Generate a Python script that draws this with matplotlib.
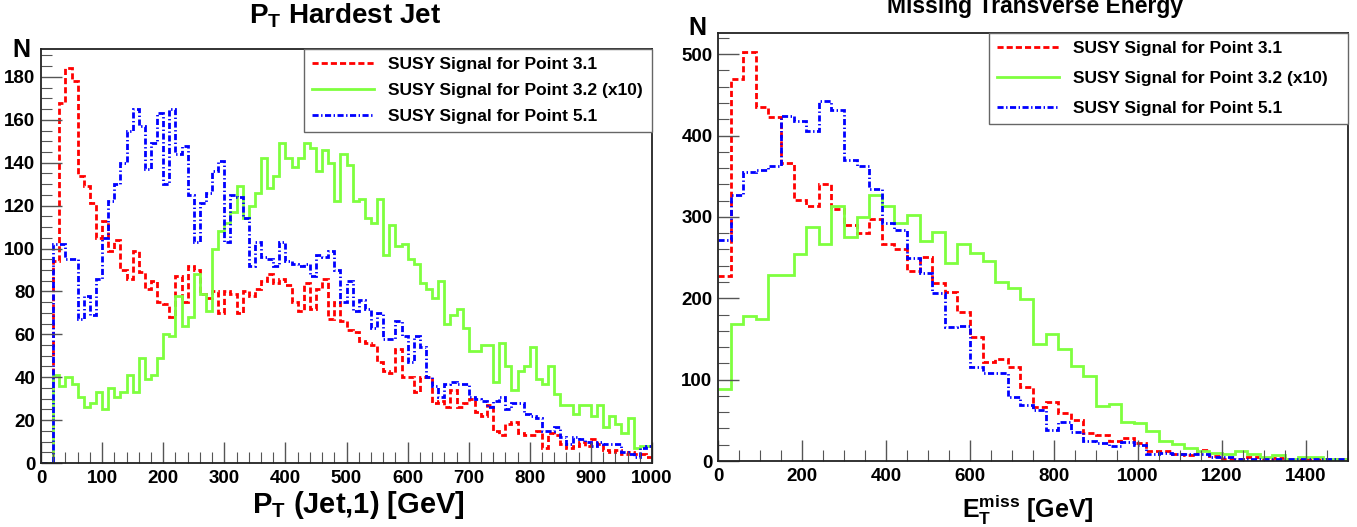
import numpy as np
import matplotlib
matplotlib.use('Agg')
import matplotlib.pyplot as plt
from matplotlib.ticker import MultipleLocator

plt.rcParams['font.family'] = ['Liberation Sans', 'DejaVu Sans']
plt.rcParams['font.weight'] = 'bold'
plt.rcParams['mathtext.fontset'] = 'custom'
plt.rcParams['mathtext.rm'] = 'Liberation Sans'
plt.rcParams['mathtext.bf'] = 'Liberation Sans:bold'
plt.rcParams['mathtext.it'] = 'Liberation Sans:italic'

# Hardest jet pT: 10 GeV bins from 0 to 1000
pt_edges = np.arange(0, 1001, 10)
pt_p31 = [0, 0, 94, 168, 184, 178, 134, 129, 121, 105,
          113, 99, 104, 90, 86, 99, 89, 81, 85, 75,
          74, 68, 87, 75, 92, 90, 79, 77, 80, 70,
          80, 79, 70, 80, 78, 81, 85, 88, 84, 86,
          83, 75, 71, 84, 72, 81, 86, 67, 75, 66,
          62, 61, 57, 56, 55, 47, 43, 42, 53, 40,
          40, 33, 40, 40, 28, 29, 26, 34, 26, 28,
          30, 24, 22, 27, 15, 13, 18, 19, 14, 13,
          13, 15, 7, 14, 13, 9, 7, 8, 10, 8,
          11, 9, 6, 5, 6, 4, 5, 4, 4, 3]
pt_p32 = [0, 0, 41, 36, 40, 37, 31, 26, 28, 33,
          25, 35, 31, 33, 41, 33, 49, 39, 41, 49,
          60, 59, 78, 64, 68, 88, 79, 71, 100, 108,
          112, 117, 129, 114, 120, 126, 142, 128, 134, 149,
          142, 138, 142, 149, 147, 136, 146, 140, 122, 144,
          139, 122, 123, 114, 112, 123, 97, 111, 101, 102,
          95, 93, 84, 81, 77, 85, 65, 69, 72, 63,
          52, 52, 55, 55, 38, 56, 45, 34, 43, 45,
          54, 39, 37, 45, 32, 27, 27, 23, 27, 27,
          22, 27, 17, 22, 18, 14, 21, 7, 8, 8]
pt_p51 = [0, 0, 102, 102, 95, 95, 67, 78, 69, 86,
          105, 122, 130, 140, 155, 165, 157, 137, 149, 163,
          130, 165, 144, 148, 125, 103, 121, 126, 136, 141,
          103, 125, 124, 114, 92, 103, 96, 95, 92, 103,
          94, 93, 92, 93, 87, 97, 96, 99, 90, 75,
          85, 71, 76, 72, 63, 70, 58, 58, 66, 59,
          47, 59, 54, 40, 36, 31, 37, 38, 37, 37,
          31, 30, 29, 26, 29, 31, 25, 28, 28, 23,
          22, 21, 15, 15, 17, 12, 9, 12, 11, 10,
          8, 10, 9, 9, 9, 5, 4, 3, 7, 8]

# Missing transverse energy: 30 GeV bins from 0 to 1500
met_edges = np.arange(0, 1501, 30)
met_p31 = [228, 469, 503, 435, 423, 366, 321, 314, 340, 310,
           290, 280, 297, 267, 261, 234, 251, 219, 208, 183,
           153, 122, 126, 116, 91, 67, 73, 59, 50, 34,
           32, 24, 28, 22, 12, 12, 9, 7, 13, 6,
           3, 3, 5, 3, 4, 2, 2, 3, 2, 2]
met_p32 = [89, 168, 178, 175, 229, 229, 254, 288, 267, 313,
           275, 300, 327, 314, 293, 302, 270, 282, 243, 267,
           256, 246, 220, 213, 199, 144, 156, 138, 117, 104,
           68, 70, 48, 47, 37, 25, 21, 16, 12, 10,
           9, 12, 9, 5, 7, 3, 5, 5, 3, 3]
met_p51 = [272, 327, 355, 358, 362, 424, 418, 406, 443, 432,
           370, 362, 334, 293, 284, 250, 231, 206, 165, 166,
           116, 108, 108, 79, 69, 63, 38, 48, 36, 24,
           22, 18, 23, 20, 9, 10, 9, 9, 9, 5,
           5, 2, 3, 2, 2, 2, 2, 2, 2, 2]

labels = ['SUSY Signal for Point 3.1', 'SUSY Signal for Point 3.2 (x10)',
          'SUSY Signal for Point 5.1']
red = '#ff0000'
green = '#7fff3f'
blue = '#0000ff'
styles = [dict(color=red, lw=2.0, ls=(0, (2.2, 1.1))),
          dict(color=green, lw=2.0, ls='-'),
          dict(color=blue, lw=2.0, ls=(0, (2.2, 0.9, 0.5, 0.9)))]

fig = plt.figure(figsize=(13.57, 5.27), dpi=100)
ax1 = fig.add_axes([0.0302, 0.1214, 0.4503, 0.7856])
ax2 = fig.add_axes([0.5291, 0.1252, 0.4643, 0.8121])

for ax, edges, series in [(ax1, pt_edges, [pt_p31, pt_p32, pt_p51]),
                          (ax2, met_edges, [met_p31, met_p32, met_p51])]:
    for vals, st, lab in zip(series, styles, labels):
        ax.stairs(vals, edges, baseline=None, label=lab, **st)
    ax.tick_params(which='both', direction='in', color='#555555', labelsize=13.5,
                   top=False, right=False)
    ax.tick_params(which='major', length=15, width=1.0)
    ax.tick_params(which='minor', length=8, width=0.8)
    ax.tick_params(axis='y', pad=4)
    ax.tick_params(axis='x', pad=5)
    for sp in ax.spines.values():
        sp.set_linewidth(1.3)
        sp.set_color('#222222')

ax1.set_xlim(0, 1000)
ax1.set_ylim(0, 193)
ax1.xaxis.set_major_locator(MultipleLocator(100))
ax1.xaxis.set_minor_locator(MultipleLocator(20))
ax1.yaxis.set_major_locator(MultipleLocator(20))
ax1.yaxis.set_minor_locator(MultipleLocator(5))

ax2.set_xlim(0, 1500)
ax2.set_ylim(0, 526)
ax2.xaxis.set_major_locator(MultipleLocator(200))
ax2.xaxis.set_minor_locator(MultipleLocator(50))
ax2.yaxis.set_major_locator(MultipleLocator(100))
ax2.yaxis.set_minor_locator(MultipleLocator(20))

for ax in (ax1, ax2):
    for lab in ax.get_xticklabels() + ax.get_yticklabels():
        lab.set_fontweight('bold')

for ax, x0, y0, sp in [(ax1, 0.43, 0.797, 0.62), (ax2, 0.43, 0.778, 0.85)]:
    leg = ax.legend(loc='upper left', bbox_to_anchor=(x0, y0, 1 - x0, 1 - y0),
                    mode='expand', borderaxespad=0, fancybox=False,
                    edgecolor='#666666', framealpha=1, fontsize=12.5,
                    handlelength=3.6, handletextpad=0.8, labelspacing=sp,
                    borderpad=0.45)
    leg.get_frame().set_linewidth(1.0)
    for t in leg.get_texts():
        t.set_fontweight('bold')

fig.text(345 / 1357, 1 - 23 / 527, r'$\mathbf{P}_{\mathbf{T}}$ Hardest Jet',
         ha='center', va='baseline', fontsize=20, fontweight='bold')
fig.text(1035 / 1357, 1 - 13 / 527, 'Missing Transverse Energy',
         ha='center', va='baseline', fontsize=16.5, fontweight='bold')
fig.text(358 / 1357, 1 - 513 / 527, r'$\mathbf{P}_{\mathbf{T}}$ (Jet,1) [GeV]',
         ha='center', va='baseline', fontsize=21, fontweight='bold')
fig.text(1028 / 1357, 1 - 518 / 527, r'$\mathbf{E}_{\mathrm{T}}^{\mathrm{miss}}$ [GeV]',
         ha='center', va='baseline', fontsize=18, fontweight='bold')
fig.text(21 / 1357, 1 - 57 / 527, 'N', ha='center', va='baseline',
         fontsize=18, fontweight='bold')
fig.text(697 / 1357, 1 - 35 / 527, 'N', ha='center', va='baseline',
         fontsize=18, fontweight='bold')

fig.savefig('out.png', dpi=100)
